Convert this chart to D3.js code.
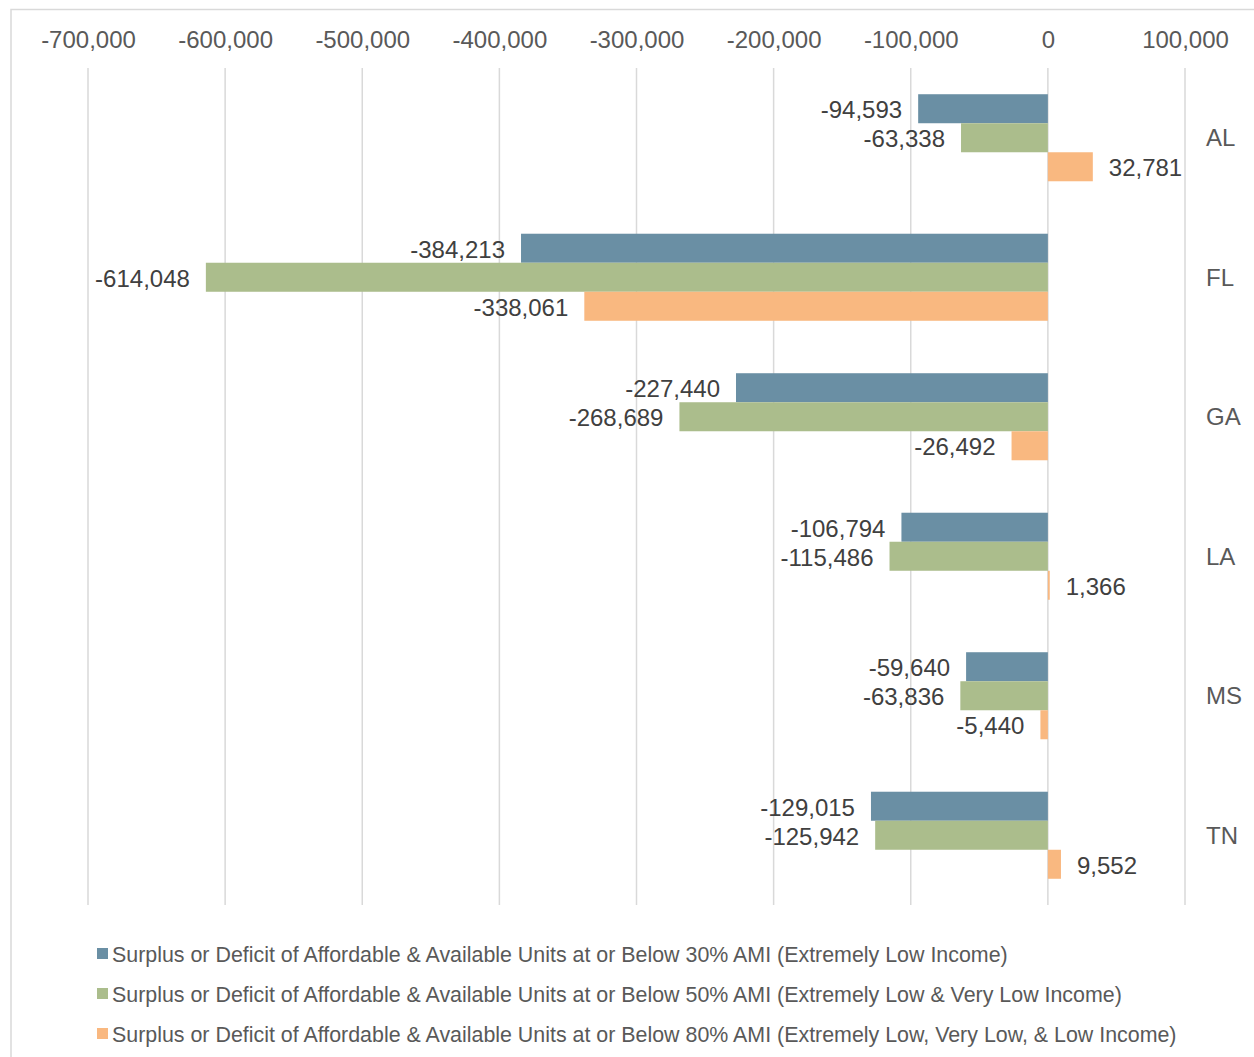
<!DOCTYPE html>
<html>
<head>
<meta charset="utf-8">
<script src="https://cdn.jsdelivr.net/npm/d3@7"></script>
<style>
  html, body { margin: 0; padding: 0; background: #fff; }
  svg { display: block; font-family: "Liberation Sans", Arial, sans-serif; }
</style>
</head>
<body>
<svg id="chart" width="1254" height="1057"></svg>
<script>
const categories = ["AL", "FL", "GA", "LA", "MS", "TN"];
const seriesNames = [
  "Surplus or Deficit of Affordable & Available Units at or Below 30% AMI (Extremely Low Income)",
  "Surplus or Deficit of Affordable & Available Units at or Below 50% AMI (Extremely Low & Very Low Income)",
  "Surplus or Deficit of Affordable & Available Units at or Below 80% AMI (Extremely Low, Very Low, & Low Income)"
];
const ami30 = [-94593, -384213, -227440, -106794, -59640, -129015];
const ami50 = [-63338, -614048, -268689, -115486, -63836, -125942];
const ami80 = [32781, -338061, -26492, 1366, -5440, 9552];
const seriesColors = ["#6a8fa4", "#abbd8c", "#f9b880"];
const xTicks = [-700000, -600000, -500000, -400000, -300000, -200000, -100000, 0, 100000];

(function () {
const seriesValues = [ami30, ami50, ami80];
const fmt = d3.formatLocale({decimal: ".", thousands: ",", grouping: [3], currency: ["$", ""], minus: "-"}).format(",");

const svg = d3.select("#chart");

// outer border
svg.append("rect")
  .attr("x", 11).attr("y", 9.5).attr("width", 1400).attr("height", 1200)
  .attr("fill", "none").attr("stroke", "#d9d9d9").attr("stroke-width", 1.5);

const plotTop = 68, plotBottom = 905;
const x = d3.scaleLinear().domain([-700000, 100000]).range([88, 1185]);
const y0 = d3.scaleBand().domain(categories).range([plotTop, plotBottom]).paddingInner(0.376).paddingOuter(0.188);
const y1 = d3.scaleBand().domain(d3.range(seriesNames.length)).range([0, y0.bandwidth()]);

// gridlines
svg.append("g").selectAll("line").data(xTicks).join("line")
  .attr("x1", d => x(d)).attr("x2", d => x(d))
  .attr("y1", plotTop).attr("y2", plotBottom)
  .attr("stroke", "#d9d9d9").attr("stroke-width", 1.5);

// top axis labels
const axis = svg.append("g").attr("transform", `translate(0,${plotTop})`)
  .call(d3.axisTop(x).tickValues(xTicks).tickFormat(fmt).tickSize(0).tickPadding(20.5));
axis.select(".domain").remove();
axis.selectAll("text").attr("font-size", 24).attr("fill", "#595959")
  .style("font-family", "'Liberation Sans', Arial, sans-serif");

// bars
const rows = [];
categories.forEach((c, i) => {
  seriesValues.forEach((vals, s) => rows.push({cat: c, s, v: vals[i]}));
});

svg.append("g").selectAll("rect").data(rows).join("rect")
  .attr("x", d => Math.min(x(0), x(d.v)))
  .attr("width", d => Math.max(1, Math.abs(x(d.v) - x(0))))
  .attr("y", d => y0(d.cat) + y1(d.s))
  .attr("height", y1.bandwidth())
  .attr("fill", d => seriesColors[d.s]);

// data labels
svg.append("g").selectAll("text").data(rows).join("text")
  .attr("x", d => d.v < 0 ? x(d.v) - 16 : x(d.v) + 16)
  .attr("y", d => y0(d.cat) + y1(d.s) + y1.bandwidth() / 2 + 1)
  .attr("dy", "0.36em")
  .attr("text-anchor", d => d.v < 0 ? "end" : "start")
  .attr("font-size", 24).attr("fill", "#404040")
  .text(d => fmt(d.v));

// category labels (right)
svg.append("g").selectAll("text").data(categories).join("text")
  .attr("x", 1206)
  .attr("y", d => y0(d) + y0.bandwidth() / 2)
  .attr("dy", "0.36em")
  .attr("font-size", 24).attr("fill", "#595959")
  .text(d => d);

// legend
const legend = svg.append("g").selectAll("g").data(seriesNames).join("g")
  .attr("transform", (d, i) => `translate(97,${954 + i * 40})`);
legend.append("rect").attr("x", 0).attr("y", -6).attr("width", 11).attr("height", 11)
  .attr("fill", (d, i) => seriesColors[i]);
legend.append("text").attr("x", 15).attr("y", 0).attr("dy", "0.36em")
  .attr("font-size", 21.4).attr("fill", "#595959").text(d => d);
})();
</script>
</body>
</html>
